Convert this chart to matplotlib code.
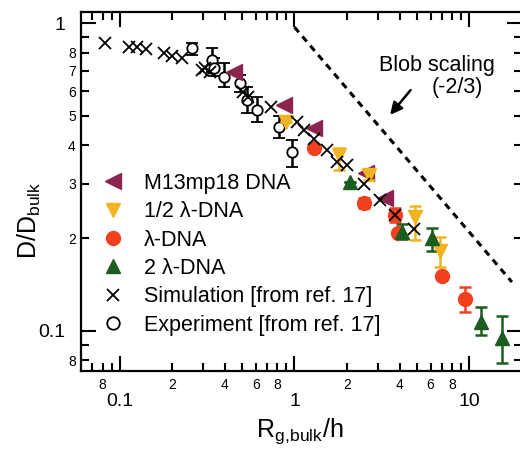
import numpy as np
import matplotlib
matplotlib.use("Agg")
import matplotlib.pyplot as plt
from matplotlib.ticker import FixedLocator, FixedFormatter
from matplotlib.lines import Line2D

plt.rcParams['font.family'] = ['Liberation Sans', 'DejaVu Sans']
plt.rcParams['mathtext.fontset'] = 'custom'
plt.rcParams['mathtext.rm'] = 'Liberation Sans'
plt.rcParams['mathtext.it'] = 'Liberation Sans'

# simulation (ref. 17)
sim_x = [0.083, 0.113, 0.126, 0.141, 0.179, 0.20, 0.228, 0.297, 0.31, 0.33, 0.51, 0.54,
         0.73, 1.036, 1.13, 1.29, 1.54, 1.75, 1.99, 2.5, 3.08, 3.78, 4.8]
sim_y = [0.863, 0.837, 0.834, 0.821, 0.797, 0.781, 0.768, 0.703, 0.714, 0.693, 0.598, 0.576,
         0.533, 0.478, 0.449, 0.42, 0.387, 0.354, 0.345, 0.30, 0.266, 0.238, 0.214]

# experiment (ref. 17) with error bars (lower / upper ends)
exp_x = [0.26, 0.339, 0.345, 0.394, 0.491, 0.537, 0.607, 0.813, 0.97]
exp_y = [0.828, 0.758, 0.714, 0.669, 0.637, 0.562, 0.522, 0.46, 0.382]
exp_lo = [0.79, 0.694, 0.673, 0.621, 0.595, 0.51, 0.477, 0.423, 0.341]
exp_hi = [0.86, 0.829, 0.77, 0.741, 0.68, 0.62, 0.575, 0.50, 0.417]

# M13mp18 DNA
m13_x = [0.45, 0.869, 1.29, 2.55, 3.31]
m13_y = [0.695, 0.541, 0.455, 0.325, 0.269]

# 1/2 lambda-DNA
half_x = [0.889, 1.79, 2.66, 4.9, 6.8]
half_y = [0.478, 0.372, 0.32, 0.235, 0.181]
half_lo = [0.478, 0.333, 0.31, 0.197, 0.161]
half_hi = [0.478, 0.392, 0.33, 0.254, 0.202]

# lambda-DNA
lam_x = [1.29, 2.49, 3.75, 3.9, 6.98, 9.5]
lam_y = [0.392, 0.26, 0.238, 0.207, 0.15, 0.127]
lam_lo = [0.392, 0.25, 0.225, 0.207, 0.15, 0.115]
lam_hi = [0.392, 0.27, 0.25, 0.207, 0.15, 0.139]

# 2 lambda-DNA
two_x = [2.09, 4.13, 6.12, 11.6, 15.4]
two_y = [0.305, 0.21, 0.20, 0.107, 0.0944]
two_lo = [0.305, 0.198, 0.181, 0.0967, 0.0785]
two_hi = [0.305, 0.222, 0.216, 0.119, 0.112]

c_m13 = '#8c2450'
c_half = '#f0b422'
c_lam = '#f2401e'
c_two = '#1d5c1f'

fig = plt.figure(figsize=(5.2, 4.5), dpi=100)
ax = fig.add_axes([0.1552, 0.1762, 0.8487, 0.7971])
ax.set_xscale('log')
ax.set_yscale('log')
ax.set_xlim(0.06, 20)
ax.set_ylim(0.0741, 1.086)


def yerr(y, lo, hi):
    y = np.array(y)
    return [y - np.array(lo), np.array(hi) - y]


# experiment: open circles with black bars
ax.errorbar(exp_x, exp_y, yerr=yerr(exp_y, exp_lo, exp_hi), fmt='o', mfc='white', mec='black',
            mew=1.3, ms=7.5, ecolor='black', elinewidth=1.8, capsize=4, capthick=1.8, zorder=3)

ax.plot(m13_x, m13_y, '<', color=c_m13, ms=11, zorder=4)
ax.errorbar(half_x, half_y, yerr=yerr(half_y, half_lo, half_hi), fmt='v', color=c_half, ms=10,
            elinewidth=1.8, capsize=4, capthick=1.8, zorder=4)
ax.errorbar(lam_x, lam_y, yerr=yerr(lam_y, lam_lo, lam_hi), fmt='o', color=c_lam, ms=10,
            elinewidth=1.8, capsize=4, capthick=1.8, zorder=4)
ax.errorbar(two_x, two_y, yerr=yerr(two_y, two_lo, two_hi), fmt='^', color=c_two, ms=10,
            elinewidth=1.8, capsize=4, capthick=1.8, zorder=4)

ax.plot(sim_x, sim_y, 'x', color='black', ms=8.5, mew=1.3, zorder=5)

# blob scaling line, slope -2/3
bx = np.array([1.0, 17.5])
ax.plot(bx, 0.97 * bx ** (-2.0 / 3.0), color='black', lw=2.2, ls=(0, (2.2, 1.8)), zorder=2)
ax.annotate('', xy=(3.44, 0.495), xytext=(4.72, 0.615),
            arrowprops=dict(arrowstyle='-|>', color='black', lw=1.8, mutation_scale=18))
ax.text(6.56, 0.73, 'Blob scaling', fontsize=15.5, ha='center', va='center')
ax.text(8.54, 0.615, '(-2/3)', fontsize=15.5, ha='center', va='center')

# ticks
ax.xaxis.set_major_locator(FixedLocator([0.1, 1, 10]))
ax.xaxis.set_major_formatter(FixedFormatter(['0.1', '1', '10']))
xminor = [0.07, 0.08, 0.09, 0.2, 0.3, 0.4, 0.5, 0.6, 0.7, 0.8, 0.9,
          2, 3, 4, 5, 6, 7, 8, 9]
xminor_lab = ['', '8', '', '2', '', '4', '', '6', '', '8', '',
              '2', '', '4', '', '6', '', '8', '']
ax.xaxis.set_minor_locator(FixedLocator(xminor))
ax.xaxis.set_minor_formatter(FixedFormatter(xminor_lab))

ax.yaxis.set_major_locator(FixedLocator([0.1, 1]))
ax.yaxis.set_major_formatter(FixedFormatter(['0.1', '1']))
yminor = [0.08, 0.09, 0.2, 0.3, 0.4, 0.5, 0.6, 0.7, 0.8, 0.9]
yminor_lab = ['8', '', '2', '3', '4', '5', '6', '7', '8', '']
ax.yaxis.set_minor_locator(FixedLocator(yminor))
ax.yaxis.set_minor_formatter(FixedFormatter(yminor_lab))

ax.tick_params(which='both', direction='in', top=True, right=True, width=1.5, colors='black')
ax.tick_params(which='major', length=11, labelsize=14)
ax.tick_params(which='minor', length=5.5, labelsize=10)
ax.tick_params(axis='x', which='major', pad=16)
ax.tick_params(axis='x', which='minor', pad=5)
ax.tick_params(axis='y', which='major', pad=11)
ax.tick_params(axis='y', which='minor', pad=3.5)
for s in ax.spines.values():
    s.set_linewidth(1.6)

ax.set_xlabel(r'R$_{\mathrm{g,\!bulk}}$/h', fontsize=18)
ax.set_ylabel(r'D/D$_{\mathrm{bulk}}$', fontsize=18)
ax.xaxis.set_label_coords(0.497, -0.128)
ax.yaxis.set_label_coords(-0.085, 0.42)

handles = [
    Line2D([], [], ls='none', marker='<', color=c_m13, ms=11),
    Line2D([], [], ls='none', marker='v', color=c_half, ms=10),
    Line2D([], [], ls='none', marker='o', color=c_lam, ms=10),
    Line2D([], [], ls='none', marker='^', color=c_two, ms=10),
    Line2D([], [], ls='none', marker='x', color='black', ms=9, mew=1.3),
    Line2D([], [], ls='none', marker='o', mfc='white', mec='black', ms=9, mew=1.3),
]
labels = ['M13mp18 DNA', u'1/2 \u03bb-DNA', u'\u03bb-DNA', u'2 \u03bb-DNA',
          'Simulation [from ref. 17]', 'Experiment [from ref. 17]']
ax.legend(handles, labels, loc='upper left', bbox_to_anchor=(102 / 520, 1 - 173 / 450),
          bbox_transform=fig.transFigure, frameon=False, fontsize=15.5, borderpad=0,
          borderaxespad=0, handlelength=1.0, handletextpad=0.95, labelspacing=0.34)

fig.savefig('out.png', dpi=100)
